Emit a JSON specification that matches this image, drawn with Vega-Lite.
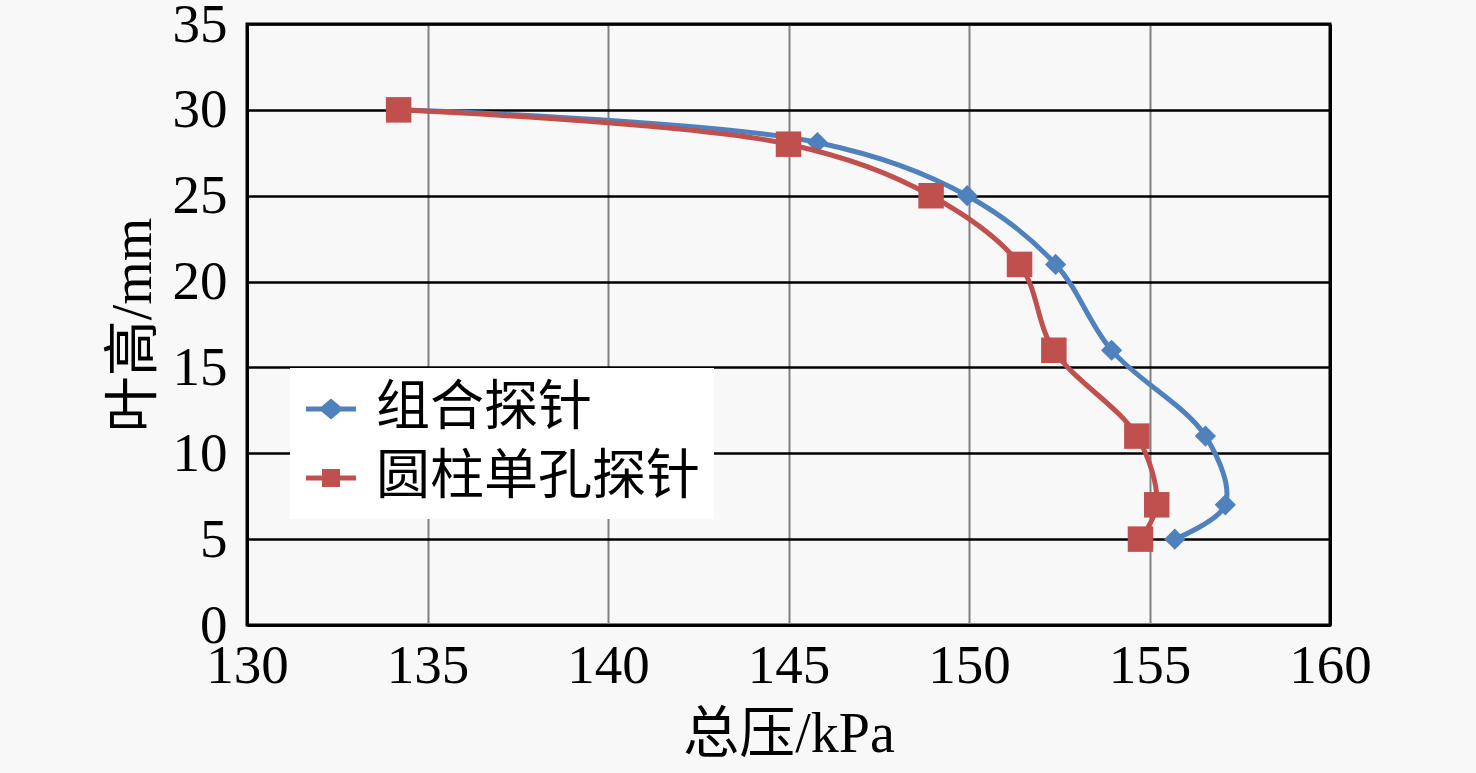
{
  "$schema": "https://vega.github.io/schema/vega-lite/v6.json",
  "width": 1083,
  "height": 601,
  "autosize": {"type": "none"},
  "padding": {"left": 247, "top": 24, "right": 146, "bottom": 148},
  "background": "#f8f8f8",
  "config": {
    "font": "'Liberation Serif', 'Noto Sans CJK SC'",
    "view": {"stroke": "black", "strokeWidth": 3, "fill": "#f8f8f8"},
    "axis": {
      "labelFontSize": 55,
      "titleFontSize": 56,
      "titleFontWeight": "normal",
      "labelColor": "black",
      "titleColor": "black",
      "labelFlush": false,
      "labelOverlap": false,
      "ticks": false,
      "domain": true,
      "domainColor": "black",
      "domainWidth": 3
    }
  },
  "data": {
    "values": [
      {"series": "组合探针", "ord": 1, "p": 134.2, "h": 30},
      {"series": "组合探针", "ord": 2, "p": 145.8, "h": 28.1},
      {"series": "组合探针", "ord": 3, "p": 149.95, "h": 25},
      {"series": "组合探针", "ord": 4, "p": 152.4, "h": 21},
      {"series": "组合探针", "ord": 5, "p": 153.95, "h": 16},
      {"series": "组合探针", "ord": 6, "p": 156.55, "h": 11},
      {"series": "组合探针", "ord": 7, "p": 157.1, "h": 7},
      {"series": "组合探针", "ord": 8, "p": 155.7, "h": 5},
      {"series": "圆柱单孔探针", "ord": 1, "p": 134.2, "h": 30},
      {"series": "圆柱单孔探针", "ord": 2, "p": 145.0, "h": 28},
      {"series": "圆柱单孔探针", "ord": 3, "p": 148.95, "h": 25},
      {"series": "圆柱单孔探针", "ord": 4, "p": 151.4, "h": 21},
      {"series": "圆柱单孔探针", "ord": 5, "p": 152.35, "h": 16},
      {"series": "圆柱单孔探针", "ord": 6, "p": 154.65, "h": 11},
      {"series": "圆柱单孔探针", "ord": 7, "p": 155.2, "h": 7},
      {"series": "圆柱单孔探针", "ord": 8, "p": 154.75, "h": 5}
    ]
  },
  "encoding": {
    "x": {
      "field": "p",
      "type": "quantitative",
      "scale": {"domain": [130, 160], "nice": false, "zero": false},
      "axis": {
        "title": "总压/kPa",
        "values": [130, 135, 140, 145, 150, 155, 160],
        "grid": true,
        "gridColor": {"condition": {"test": "datum.value === 160", "value": "black"}, "value": "#808080"},
        "gridWidth": {"condition": {"test": "datum.value === 160", "value": 3}, "value": 2},
        "labelPadding": 14,
        "titlePadding": 14
      }
    },
    "y": {
      "field": "h",
      "type": "quantitative",
      "scale": {"domain": [0, 35], "nice": false},
      "axis": {
        "title": "叶高/mm",
        "values": [0, 5, 10, 15, 20, 25, 30, 35],
        "grid": true,
        "gridColor": "black",
        "gridWidth": 2.5,
        "labelPadding": 20,
        "titlePadding": 10
      }
    },
    "color": {
      "field": "series",
      "type": "nominal",
      "scale": {"domain": ["组合探针", "圆柱单孔探针"], "range": ["#4F81BD", "#C0504D"]},
      "legend": {
        "title": null,
        "orient": "none",
        "legendX": 43,
        "legendY": 344,
        "fillColor": "white",
        "padding": 14,
        "labelFontSize": 54,
        "labelColor": "black",
        "labelOffset": 18,
        "rowPadding": 15,
        "symbolSize": 2500,
        "labelLimit": 600,
        "encode": {
          "symbols": {
            "update": {
              "shape": {"signal": "datum.value === '组合探针' ? 'M-1,-0.1H-0.38L0,-0.42L0.38,-0.1H1V0.1H0.38L0,0.42L-0.38,0.1H-1Z' : 'M-1,-0.1H-0.36V-0.36H0.36V-0.1H1V0.1H0.36V0.36H-0.36V0.1H-1Z'"},
              "fill": {"scale": "color", "field": "value"},
              "strokeWidth": {"value": 0},
              "opacity": {"value": 1}
            }
          }
        }
      }
    },
    "order": {"field": "ord", "type": "quantitative"}
  },
  "layer": [
    {
      "transform": [{"filter": "datum.series === '组合探针'"}],
      "mark": {"type": "line", "interpolate": "catmull-rom", "strokeWidth": 5}
    },
    {
      "transform": [{"filter": "datum.series === '组合探针'"}],
      "mark": {"type": "point", "filled": true, "opacity": 1, "shape": "diamond", "size": 450}
    },
    {
      "transform": [{"filter": "datum.series === '圆柱单孔探针'"}],
      "mark": {"type": "line", "interpolate": "catmull-rom", "strokeWidth": 5}
    },
    {
      "transform": [{"filter": "datum.series === '圆柱单孔探针'"}],
      "mark": {"type": "point", "filled": true, "opacity": 1, "shape": "square", "size": 650}
    }
  ]
}
